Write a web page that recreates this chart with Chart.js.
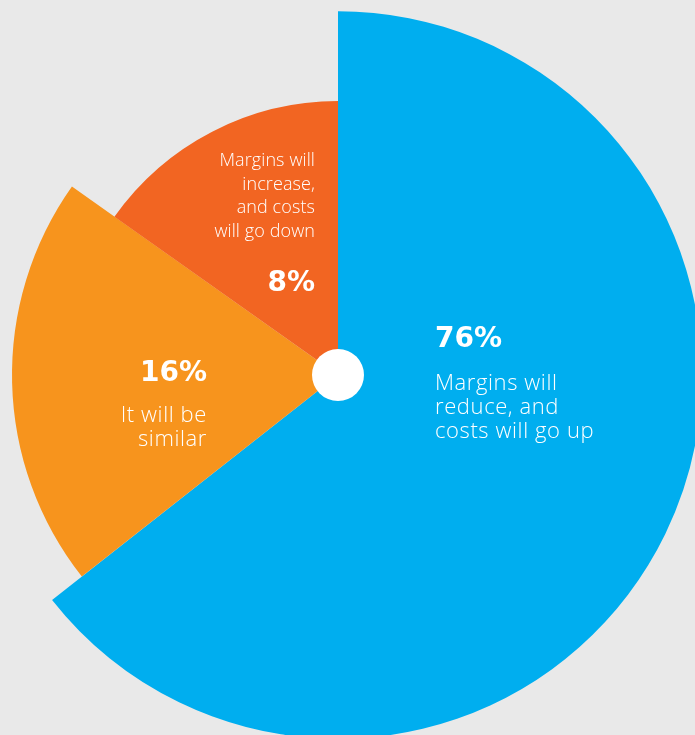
<!DOCTYPE html>
<html>
<head>
<meta charset="utf-8">
<script src="https://cdn.jsdelivr.net/npm/chart.js@4/dist/chart.umd.min.js"></script>
<style>
  html, body { margin: 0; padding: 0; background: #e9e9e9; }
  #wrap { width: 695px; height: 735px; position: relative; }
</style>
</head>
<body>
<div id="wrap"><canvas id="marginsChart"></canvas></div>
<script>
const categories = [
  "Margins will reduce, and costs will go up",
  "It will be similar",
  "Margins will increase, and costs will go down"
];
const shares = [76, 16, 8];              // printed percentages
const sweep = [231.8, 73.5, 54.7];       // angle of each slice as drawn (deg)
const reach = [100, 89.6, 75.3];         // relative length of each slice
const labelLines = [
  ["Margins will", "reduce, and", "costs will go up"],
  ["It will be", "similar"],
  ["Margins will", "increase,", "and costs", "will go down"]
];
const colors = ["#00aeef", "#f7941d", "#f26522"];

(() => {
  const canvas = document.getElementById("marginsChart");
  const ctx = canvas.getContext("2d");

  // where the text sits, relative to the centre of the pie
  const textSpots = [
    { x: 97, align: "left", pctY: -28, lineY: 15, size: 22, gap: 24, spacing: 0.6 },
    { x: -131, align: "right", pctY: 6, lineY: 47, size: 22, gap: 23.5, spacing: 0.6 },
    { x: -23, align: "right", pctY: -84, lineY: -209, size: 18, gap: 23.6, spacing: 0.1 }
  ];

  const sliceText = {
    id: "sliceText",
    afterDatasetsDraw(chart) {
      const r = chart.scales.r;
      const cx = r.xCenter, cy = r.yCenter;
      const c = chart.ctx;
      c.save();

      // white hub in the middle
      c.fillStyle = "#ffffff";
      c.beginPath();
      c.arc(cx, cy, 26, 0, Math.PI * 2);
      c.fill();

      c.fillStyle = "#ffffff";
      c.textBaseline = "alphabetic";
      textSpots.forEach((s, i) => {
        c.textAlign = s.align;
        c.letterSpacing = "0px";
        c.font = `700 28px "DejaVu Sans", sans-serif`;
        c.fillText(shares[i] + "%", cx + s.x, cy + s.pctY);
        c.letterSpacing = s.spacing + "px";
        c.font = `300 ${s.size}px "Open Sans", Roboto, sans-serif`;
        labelLines[i].forEach((line, k) => {
          c.fillText(line, cx + s.x, cy + s.lineY + k * s.gap);
        });
      });
      c.restore();
    }
  };

  new Chart(ctx, {
    type: "polarArea",
    data: {
      labels: categories,
      datasets: [{
        data: reach,
        angle: sweep,
        backgroundColor: colors,
        borderWidth: 0
      }]
    },
    options: {
      responsive: true,
      maintainAspectRatio: false,
      animation: false,
      events: [],
      layout: { padding: { left: 0, right: 19, top: 15, bottom: 0 } },
      plugins: {
        legend: { display: false },
        tooltip: { enabled: false }
      },
      scales: {
        r: {
          min: 0,
          max: 92.9,
          ticks: { display: false },
          grid: { display: false },
          angleLines: { display: false },
          pointLabels: { display: false }
        }
      }
    },
    plugins: [sliceText]
  });
})();
</script>
</body>
</html>
